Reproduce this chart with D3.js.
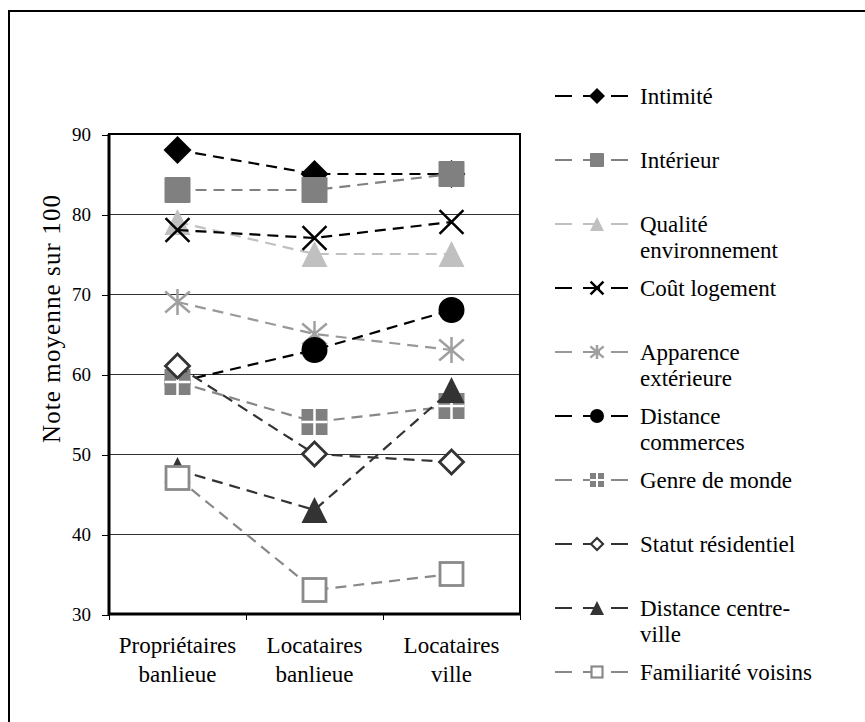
<!DOCTYPE html>
<html>
<head>
<meta charset="utf-8">
<script src="https://cdn.jsdelivr.net/npm/d3@7/dist/d3.min.js"></script>
<style>
html,body{margin:0;padding:0;background:#fff;}
svg{display:block;}
text{font-family:"Liberation Serif","Times New Roman",serif;fill:#000;}
</style>
</head>
<body>
<svg id="chart" width="865" height="722"></svg>
<script>
// ---- Data ----
const categories = ["Propriétaires banlieue", "Locataires banlieue", "Locataires ville"];
const categoryLines = [["Propriétaires", "banlieue"], ["Locataires", "banlieue"], ["Locataires", "ville"]];
const seriesNames = ["Intimité", "Intérieur", "Qualité environnement", "Coût logement",
  "Apparence extérieure", "Distance commerces", "Genre de monde", "Statut résidentiel",
  "Distance centre-ville", "Familiarité voisins"];
const legendLines = [["Intimité"], ["Intérieur"], ["Qualité", "environnement"], ["Coût logement"],
  ["Apparence", "extérieure"], ["Distance", "commerces"], ["Genre de monde"], ["Statut résidentiel"],
  ["Distance centre-", "ville"], ["Familiarité voisins"]];
const intimite = [88, 85, 85];
const interieur = [83, 83, 85];
const qualiteEnv = [79, 75, 75];
const coutLogement = [78, 77, 79];
const apparence = [69, 65, 63];
const distCommerces = [59, 63, 68];
const genreMonde = [59, 54, 56];
const statutResid = [61, 50, 49];
const distCentre = [48, 43, 58];
const familiarite = [47, 33, 35];
const seriesValues = [intimite, interieur, qualiteEnv, coutLogement, apparence,
  distCommerces, genreMonde, statutResid, distCentre, familiarite];
const yTicks = [30, 40, 50, 60, 70, 80, 90];
const yTitle = "Note moyenne sur 100";

// ---- Styles ----
const lineColors = ["#000", "#808080", "#c0c0c0", "#000", "#999", "#000", "#888", "#333", "#333", "#888"];
const markerTypes = ["diamond", "square", "triangle", "x", "star", "circle", "gridsq", "odiamond", "triangle", "osquare"];
const markerColors = ["#000", "#808080", "#c0c0c0", "#000", "#a0a0a0", "#000", "#808080", "#333", "#333", "#8a8a8a"];

const svg = d3.select("#chart");
// outer frame
svg.append("rect").attr("x", 9).attr("y", 11).attr("width", 1000).attr("height", 1000)
  .attr("fill", "none").attr("stroke", "#000").attr("stroke-width", 2);

const pLeft = 109, pRight = 520, pTop = 134, pBottom = 614;
const x = d3.scaleBand().domain(categories).range([pLeft, pRight]);
const y = d3.scaleLinear().domain([30, 90]).range([pBottom, pTop]);
const cx = c => x(c) + x.bandwidth() / 2;

// gridlines
svg.append("g").selectAll("line").data(yTicks.filter(t => t > 30 && t < 90)).join("line")
  .attr("x1", pLeft).attr("x2", pRight).attr("y1", d => Math.round(y(d)) + 0.5).attr("y2", d => Math.round(y(d)) + 0.5)
  .attr("stroke", "#333").attr("stroke-width", 1).attr("shape-rendering", "crispEdges");

// y axis
const yAxis = svg.append("g").attr("transform", `translate(${pLeft},0.5)`)
  .call(d3.axisLeft(y).tickValues(yTicks).tickSize(7).tickPadding(11));
yAxis.select(".domain").remove();
yAxis.selectAll(".tick line").attr("stroke", "#000").attr("stroke-width", 1).attr("shape-rendering", "crispEdges");
yAxis.selectAll(".tick text").attr("font-size", 19).attr("font-family", "Liberation Serif").attr("fill", "#000");

// x ticks at band boundaries
const xb = categories.map(c => x(c)).concat([pRight]);
svg.append("g").selectAll("line").data(xb).join("line")
  .attr("x1", d => Math.round(d) + 0.5).attr("x2", d => Math.round(d) + 0.5).attr("y1", pBottom).attr("y2", pBottom + 6)
  .attr("stroke", "#000").attr("stroke-width", 1).attr("shape-rendering", "crispEdges");

// x labels
const xl = svg.append("g").selectAll("text").data(categories).join("text")
  .attr("text-anchor", "middle").attr("font-size", 23);
xl.each(function (c, i) {
  const t = d3.select(this);
  categoryLines[i].forEach((ln, k) => {
    t.append("tspan").attr("x", cx(c)).attr("y", 653 + k * 29).text(ln);
  });
});

// plot border
svg.append("rect").attr("x", pLeft).attr("y", pTop).attr("width", pRight - pLeft).attr("height", pBottom - pTop)
  .attr("fill", "none").attr("stroke", "#000").attr("stroke-width", 2);
svg.append("line").attr("x1", pLeft).attr("x2", pLeft).attr("y1", pTop).attr("y2", pBottom + 1)
  .attr("stroke", "#000").attr("stroke-width", 3);
svg.append("line").attr("x1", pLeft - 1).attr("x2", pRight + 1).attr("y1", pBottom).attr("y2", pBottom)
  .attr("stroke", "#000").attr("stroke-width", 3);

// y title
svg.append("text").attr("transform", "translate(60,319) rotate(-90)")
  .attr("text-anchor", "middle").attr("font-size", 25)
  .attr("textLength", 248).attr("lengthAdjust", "spacing").text(yTitle);

// marker drawing
function drawMarker(g, type, color, s) {
  const h = s / 2;
  if (type === "diamond") {
    g.append("path").attr("d", `M0,${-h - 1}L${h + 1},0L0,${h + 1}L${-h - 1},0Z`).attr("fill", color);
  } else if (type === "square") {
    g.append("rect").attr("x", -h).attr("y", -h).attr("width", s).attr("height", s).attr("rx", 1).attr("fill", color);
  } else if (type === "triangle") {
    g.append("path").attr("d", `M0,${-h}L${h},${h}L${-h},${h}Z`).attr("fill", color);
  } else if (type === "x") {
    const k = h * 0.92;
    g.append("path").attr("d", `M${-k},${-k}L${k},${k}M${k},${-k}L${-k},${k}`)
      .attr("stroke", color).attr("stroke-width", 2.5).attr("fill", "none");
  } else if (type === "star") {
    const k = h * 0.95;
    g.append("path").attr("d", `M${-k},${-k * 0.85}L${k},${k * 0.85}M${k},${-k * 0.85}L${-k},${k * 0.85}M0,${-h}L0,${h}`)
      .attr("stroke", color).attr("stroke-width", 2.5).attr("fill", "none");
  } else if (type === "circle") {
    g.append("circle").attr("r", h).attr("fill", color);
  } else if (type === "gridsq") {
    g.append("rect").attr("x", -h).attr("y", -h).attr("width", s).attr("height", s).attr("fill", color);
    g.append("path").attr("d", `M0,${-h}L0,${h}M${-h},0L${h},0`).attr("stroke", "#fff")
      .attr("stroke-width", s > 20 ? 2.5 : 2);
  } else if (type === "odiamond") {
    const k = h - 1;
    g.append("path").attr("d", `M0,${-k}L${k},0L0,${k}L${-k},0Z`).attr("fill", "#fff")
      .attr("stroke", color).attr("stroke-width", s > 20 ? 2.8 : 2.2);
  } else if (type === "osquare") {
    const k = h - 1.5;
    g.append("rect").attr("x", -k).attr("y", -k).attr("width", 2 * k).attr("height", 2 * k).attr("fill", "#fff")
      .attr("stroke", color).attr("stroke-width", s > 20 ? 2.8 : 2.2);
  }
}

// series
const line = d3.line().x((d, i) => cx(categories[i])).y(d => y(d));
seriesValues.forEach((vals, si) => {
  const g = svg.append("g");
  g.append("path").datum(vals).attr("d", line).attr("fill", "none")
    .attr("stroke", lineColors[si]).attr("stroke-width", 2.2).attr("stroke-dasharray", "11,7");
  vals.forEach((v, i) => {
    const mg = g.append("g").attr("transform", `translate(${cx(categories[i])},${y(v)})`);
    drawMarker(mg, markerTypes[si], markerColors[si], 26);
  });
});

// legend
const lgx1 = 555, lgx2 = 628, lgm = 597, lgText = 640;
seriesNames.forEach((name, si) => {
  const yy = 96 + si * 64;
  const g = svg.append("g");
  g.append("line").attr("x1", lgx1).attr("x2", lgx2).attr("y1", yy).attr("y2", yy)
    .attr("stroke", lineColors[si]).attr("stroke-width", 2.2).attr("stroke-dasharray", "17,11");
  const mg = g.append("g").attr("transform", `translate(${lgm},${yy})`);
  drawMarker(mg, markerTypes[si], markerColors[si], 14);
  const t = g.append("text").attr("font-size", 23);
  legendLines[si].forEach((ln, k) => {
    t.append("tspan").attr("x", lgText).attr("y", yy + 7.5 + k * 26).text(ln);
  });
});
</script>
</body>
</html>
